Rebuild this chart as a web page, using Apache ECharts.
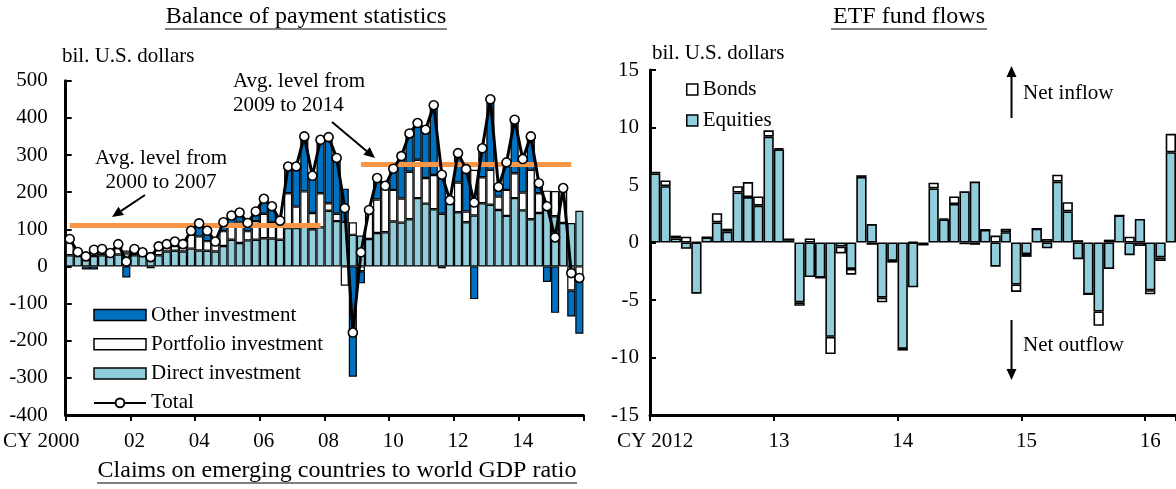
<!DOCTYPE html>
<html>
<head>
<meta charset="utf-8">
<script src="https://cdn.jsdelivr.net/npm/echarts@6/dist/echarts.min.js"></script>
<style>
  html, body { margin: 0; padding: 0; background: #fff; }
  #chart { width: 1176px; height: 489px; }
</style>
</head>
<body>
<div id="chart"></div>
<script>
// ---------- Balance of payment statistics (quarterly, bil. U.S. dollars) ----------
const bopYears = [2000, 2001, 2002, 2003, 2004, 2005, 2006, 2007, 2008, 2009, 2010, 2011, 2012, 2013, 2014, 2015];
const bopTickLabels = ['CY 2000', '02', '04', '06', '08', '10', '12', '14'];

const directInvestment = [
  30, 28, 25, 28, 30, 28, 32, 35, 30, 28, 28, 30, 40, 42, 40, 48,
  43, 42, 40, 55, 72, 63, 70, 72, 76, 75, 72, 103, 103, 108, 100, 105,
  150, 122, 120, 85, 83, 74, 90, 92, 121, 118, 127, 184, 169, 154, 142, 169,
  146, 119, 137, 170, 166, 152, 136, 184, 151, 127, 144, 154, 135, 117, 117, 150
];
const portfolioInvestment = [
  44, 11, 10, 25, 17, 8, 28, 8, 17, 10, 2, 24, 20, 13, 20, 38,
  38, 26, 27, 40, 40, 55, 25, 50, 66, 45, 36, 94, 58, 94, 44, 92,
  20, 20, -52, 34, -13, 74, 90, 119, 85, 65, 128, 103, 69, 92, -5, 0,
  80, 29, 123, 70, 94, 36, 70, 67, 48, 133, 53, 50, 68, 85, -65, -33
];
const otherInvestment = [
  0, 0, -8, -8, 0, 0, 0, -30, 0, 0, -5, 0, 0, 12, 0, 10,
  35, 28, 0, 24, 25, 27, 22, 26, 40, 42, 15, 72, 108, 148, 100, 144,
  178, 150, 89, -297, -32, 4, 58, 6, 57, 114, 103, 99, 130, 188, 110, 9,
  79, 114, -88, 78, 190, 26, 74, 144, 90, 90, 27, -42, -125, 9, -70, -148
];
const totalFlows = [
  74, 39, 27, 45, 47, 36, 60, 13, 47, 38, 25, 54, 60, 67, 60, 96,
  116, 96, 67, 119, 137, 145, 117, 148, 182, 162, 123, 269, 269, 350, 244, 341,
  348, 292, 157, -178, 38, 152, 238, 217, 263, 297, 358, 386, 368, 434, 247, 178,
  305, 262, 172, 318, 450, 214, 280, 395, 289, 350, 224, 162, 78, 211, -18, -31
];
const avg2000to2007 = 112;
const avg2009to2014 = 275;

// ---------- ETF fund flows (monthly, bil. U.S. dollars) ----------
const etfYears = [2012, 2013, 2014, 2015, 2016];
const etfTickLabels = ['CY 2012', '13', '14', '15', '16'];
const etfMonthsShown = 51; // Jan 2012 .. Mar 2016
const equities = [
  6.0, 4.9, 0.35, -0.55, -4.45, 0.45, 1.75, 0.95, 4.35, 3.95, 3.2, 9.2,
  8.1, 0.2, -5.2, -3.0, -3.05, -8.2, -0.35, -2.3, 5.7, 1.6, -4.8, -1.6,
  -9.25, -3.9, -0.2, 4.7, 2.0, 3.35, 4.45, 5.3, 1.1, -2.1, 0.9, -3.65,
  -1.0, 1.2, -0.5, 5.3, 2.7, -1.45, -4.5, -6.0, -2.3, 2.35, -1.1, 2.05,
  -4.15, -1.3, 7.85
];
const bonds = [
  0.15, 0.5, 0.25, 0.5, 0.05, 0, 0.8, 0.25, 0.55, 1.3, 0.8, 0.55,
  0.1, 0.15, -0.3, 0.35, 0, -1.5, -0.6, -0.5, 0.15, -0.2, -0.4, -0.15,
  -0.15, 0.05, 0, 0.5, 0.1, 0.65, -0.15, -0.2, 0, 0.6, 0.3, -0.65,
  -0.25, 0, 0.3, 0.6, 0.8, 0.2, 0, -1.25, 0.25, 0, 0.5, -0.3,
  -0.35, -0.3, 1.6
];

// ---------- category builders ----------
const bopQuarters = [];
const bopLabelOf = {};
bopYears.forEach((y, k) => {
  for (let q = 1; q <= 4; q++) {
    const c = y + 'Q' + q;
    bopQuarters.push(c);
    if (q === 1 && k % 2 === 0) bopLabelOf[c] = bopTickLabels[k / 2];
  }
});
const etfMonths = [];
const etfLabelOf = {};
etfYears.forEach((y, k) => {
  for (let m = 1; m <= 12; m++) {
    const c = y + '-' + m;
    if (etfMonths.length < etfMonthsShown) etfMonths.push(c);
    if (m === 1) etfLabelOf[c] = etfTickLabels[k];
  }
});

// ---------- styling ----------
const FONT = "'Liberation Serif', 'Times New Roman', serif";
const DARK_BLUE = '#0070C0';
const LIGHT_BLUE = '#92CDDC';
const ORANGE = '#F79646';

const axisText = { color: '#000', fontFamily: FONT, fontSize: 21 };

function arrow(x1, y1, x2, y2) {
  const dx = x2 - x1, dy = y2 - y1, len = Math.hypot(dx, dy);
  const ux = dx / len, uy = dy / len, nx = -uy, ny = ux;
  const hl = 11, hw = 5;
  const bx = x2 - ux * hl, by = y2 - uy * hl;
  return [
    { type: 'line', silent: true, shape: { x1: x1, y1: y1, x2: bx, y2: by },
      style: { stroke: '#000', lineWidth: 2 } },
    { type: 'polygon', silent: true,
      shape: { points: [[x2, y2], [bx + nx * hw, by + ny * hw], [bx - nx * hw, by - ny * hw]] },
      style: { fill: '#000' } }
  ];
}
function label(text, x, y, align, size) {
  return { type: 'text', silent: true, style: {
    text: text, x: x, y: y, fill: '#000', textAlign: align || 'left', textVerticalAlign: 'middle',
    font: (size || 21) + "px 'Liberation Serif', 'Times New Roman', serif" } };
}
function underlinedTitle(text, cx, cy, halfWidth) {
  return [
    label(text, cx, cy, 'center', 24),
    { type: 'line', silent: true, shape: { x1: cx - halfWidth, y1: cy + 12, x2: cx + halfWidth, y2: cy + 12 },
      style: { stroke: '#000', lineWidth: 1.2 } }
  ];
}

const chart = echarts.init(document.getElementById('chart'), null, { renderer: 'canvas' });

const option = {
  animation: false,
  backgroundColor: '#fff',
  grid: [
    { left: 65, top: 80.7, width: 518.4, height: 334.3 },
    { left: 650, top: 70, width: 530.4, height: 345 }
  ],
  xAxis: [
    {
      type: 'category', gridIndex: 0, data: bopQuarters, boundaryGap: true,
      axisLine: { onZero: false, lineStyle: { color: '#000', width: 3 } },
      axisTick: { show: true, inside: false, length: 6, interval: 7, lineStyle: { color: '#000', width: 2 } },
      axisLabel: Object.assign({
        interval: 7, margin: 16,
        formatter: v => v === bopQuarters[0] ? '{first|' + bopLabelOf[v] + '}' : (bopLabelOf[v] || ''),
        rich: { first: { color: '#000', fontFamily: FONT, fontSize: 21, padding: [0, 57, 0, 0] } }
      }, axisText)
    },
    {
      type: 'category', gridIndex: 1, data: etfMonths, boundaryGap: true,
      axisLine: { onZero: false, lineStyle: { color: '#000', width: 3 } },
      axisTick: { show: true, inside: false, length: 6, interval: 11, lineStyle: { color: '#000', width: 2 } },
      axisLabel: Object.assign({ interval: 11, margin: 16, formatter: v => etfLabelOf[v] || '' }, axisText)
    }
  ],
  yAxis: [
    {
      type: 'value', gridIndex: 0, min: -400, max: 500, interval: 100,
      axisLine: { show: true, lineStyle: { color: '#000', width: 3 } },
      axisTick: { show: true, inside: true, length: 6, lineStyle: { color: '#000', width: 2 } },
      splitLine: { show: false },
      axisLabel: Object.assign({ margin: 18 }, axisText)
    },
    {
      type: 'value', gridIndex: 1, min: -15, max: 15, interval: 5,
      axisLine: { show: true, lineStyle: { color: '#000', width: 3 } },
      axisTick: { show: true, inside: true, length: 6, lineStyle: { color: '#000', width: 2 } },
      splitLine: { show: false },
      axisLabel: Object.assign({ margin: 11 }, axisText)
    }
  ],
  legend: [
    {
      orient: 'vertical', left: 93, top: 304.5, padding: 0, itemWidth: 52, itemHeight: 11, itemGap: 8.3,
      selectedMode: false,
      textStyle: { color: '#000', fontFamily: FONT, fontSize: 21 },
      data: [
        { name: 'Other investment', icon: 'rect', itemStyle: { color: DARK_BLUE, borderColor: '#000', borderWidth: 1.5 } },
        { name: 'Portfolio investment', icon: 'rect', itemStyle: { color: '#fff', borderColor: '#000', borderWidth: 1.5 } },
        { name: 'Direct investment', icon: 'rect', itemStyle: { color: LIGHT_BLUE, borderColor: '#000', borderWidth: 1.5 } },
        { name: 'Total' }
      ]
    },
    {
      orient: 'vertical', left: 686, top: 79, padding: 0, itemWidth: 11, itemHeight: 11, itemGap: 10,
      selectedMode: false,
      textStyle: { color: '#000', fontFamily: FONT, fontSize: 21 },
      data: [
        { name: 'Bonds', icon: 'rect', itemStyle: { color: '#fff', borderColor: '#000', borderWidth: 1.5 } },
        { name: 'Equities', icon: 'rect', itemStyle: { color: LIGHT_BLUE, borderColor: '#000', borderWidth: 1.5 } }
      ]
    }
  ],
  series: [
    {
      name: 'Direct investment', type: 'bar', xAxisIndex: 0, yAxisIndex: 0, stack: 'bop',
      data: directInvestment, barCategoryGap: '0%',
      itemStyle: { color: LIGHT_BLUE, borderColor: '#000', borderWidth: 1.2 }
    },
    {
      name: 'Portfolio investment', type: 'bar', xAxisIndex: 0, yAxisIndex: 0, stack: 'bop',
      data: portfolioInvestment, barCategoryGap: '0%',
      itemStyle: { color: '#fff', borderColor: '#000', borderWidth: 1.2 }
    },
    {
      name: 'Other investment', type: 'bar', xAxisIndex: 0, yAxisIndex: 0, stack: 'bop',
      data: otherInvestment, barCategoryGap: '0%',
      itemStyle: { color: DARK_BLUE, borderColor: '#000', borderWidth: 1.2 },
      markLine: {
        silent: true, symbol: 'none', animation: false,
        label: { show: false },
        lineStyle: { color: ORANGE, width: 5, type: 'solid' },
        data: [
          [{ xAxis: '2000Q1', yAxis: avg2000to2007 }, { xAxis: '2007Q4', yAxis: avg2000to2007 }],
          [{ xAxis: '2009Q1', yAxis: avg2009to2014 }, { xAxis: '2015Q3', yAxis: avg2009to2014 }]
        ]
      }
    },
    {
      name: 'Total', type: 'line', xAxisIndex: 0, yAxisIndex: 0, z: 5,
      data: totalFlows, symbol: 'circle', symbolSize: 9, showAllSymbol: true,
      lineStyle: { color: '#000', width: 3 },
      itemStyle: { color: '#fff', borderColor: '#000', borderWidth: 1.6 }
    },
    {
      name: 'Equities', type: 'bar', xAxisIndex: 1, yAxisIndex: 1, stack: 'etf',
      data: equities, barCategoryGap: '0%',
      itemStyle: { color: LIGHT_BLUE, borderColor: '#000', borderWidth: 1.6 }
    },
    {
      name: 'Bonds', type: 'bar', xAxisIndex: 1, yAxisIndex: 1, stack: 'etf',
      data: bonds, barCategoryGap: '0%',
      itemStyle: { color: '#fff', borderColor: '#000', borderWidth: 1.6 }
    }
  ],
  graphic: [].concat(
    underlinedTitle('Balance of payment statistics', 306, 17, 141),
    underlinedTitle('ETF fund flows', 909, 17, 78),
    underlinedTitle('Claims on emerging countries to world GDP ratio', 337, 471, 240),
    [label('bil. U.S. dollars', 62, 56), label('bil. U.S. dollars', 652, 53)],
    [label('Avg. level from', 161, 158, 'center'), label('2000 to 2007', 161, 182, 'center')],
    arrow(145, 195, 112, 217),
    [label('Avg. level from', 233, 81), label('2009 to 2014', 233, 105)],
    arrow(332, 122, 375, 158),
    [label('Net inflow', 1023, 93)],
    arrow(1011.5, 118, 1011.5, 66),
    [label('Net outflow', 1023, 345)],
    arrow(1011.5, 320, 1011.5, 380)
  )
};

chart.setOption(option);
</script>
</body>
</html>
